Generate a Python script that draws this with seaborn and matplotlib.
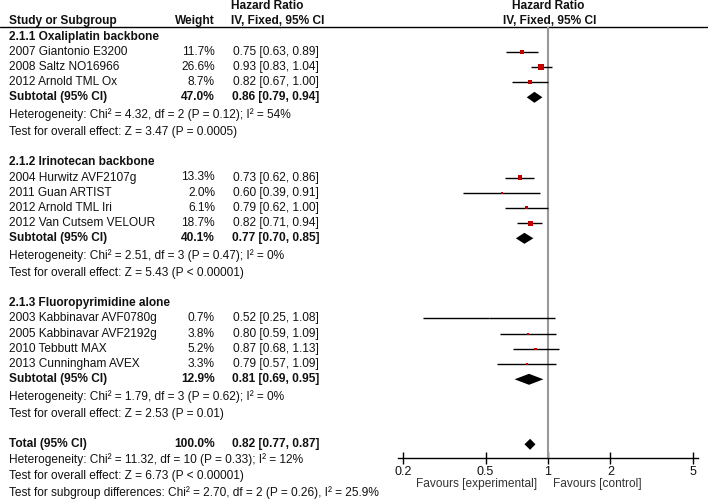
import matplotlib
matplotlib.use("Agg")
import matplotlib.pyplot as plt
import seaborn as sns
import pandas as pd
import numpy as np

# ---------------- data ----------------
group_names = ["2.1.1 Oxaliplatin backbone",
               "2.1.2 Irinotecan backbone",
               "2.1.3 Fluoropyrimidine alone"]

study_names = ["2007 Giantonio E3200", "2008 Saltz NO16966", "2012 Arnold TML Ox",
               "2004 Hurwitz AVF2107g", "2011 Guan ARTIST", "2012 Arnold TML Iri",
               "2012 Van Cutsem VELOUR",
               "2003 Kabbinavar AVF0780g", "2005 Kabbinavar AVF2192g",
               "2010 Tebbutt MAX", "2013 Cunningham AVEX"]
study_group = [0, 0, 0, 1, 1, 1, 1, 2, 2, 2, 2]
study_weight = [11.7, 26.6, 8.7, 13.3, 2.0, 6.1, 18.7, 0.7, 3.8, 5.2, 3.3]
study_hr = [0.75, 0.93, 0.82, 0.73, 0.60, 0.79, 0.82, 0.52, 0.80, 0.87, 0.79]
study_lo = [0.63, 0.83, 0.67, 0.62, 0.39, 0.62, 0.71, 0.25, 0.59, 0.68, 0.57]
study_hi = [0.89, 1.04, 1.00, 0.86, 0.91, 1.00, 0.94, 1.08, 1.09, 1.13, 1.09]

sub_weight = [47.0, 40.1, 12.9]
sub_hr = [0.86, 0.77, 0.81]
sub_lo = [0.79, 0.70, 0.69]
sub_hi = [0.94, 0.85, 0.95]
sub_het = ["Heterogeneity: Chi² = 4.32, df = 2 (P = 0.12); I² = 54%",
           "Heterogeneity: Chi² = 2.51, df = 3 (P = 0.47); I² = 0%",
           "Heterogeneity: Chi² = 1.79, df = 3 (P = 0.62); I² = 0%"]
sub_test = ["Test for overall effect: Z = 3.47 (P = 0.0005)",
            "Test for overall effect: Z = 5.43 (P < 0.00001)",
            "Test for overall effect: Z = 2.53 (P = 0.01)"]

total_weight = 100.0
total_hr = 0.82
total_lo = 0.77
total_hi = 0.87
total_texts = ["Heterogeneity: Chi² = 11.32, df = 10 (P = 0.33); I² = 12%",
               "Test for overall effect: Z = 6.73 (P < 0.00001)",
               "Test for subgroup differences: Chi² = 2.70, df = 2 (P = 0.26), I² = 25.9%"]

tick_values = [0.2, 0.5, 1, 2, 5]
tick_labels = ["0.2", "0.5", "1", "2", "5"]

# ---------------- style ----------------
sns.set_theme(style="white")
plt.rcParams['font.family'] = ['Liberation Sans', 'DejaVu Sans']
FS = 8.6
TXT = "#111111"
RED = "#C00000"

W, H = 708, 499
fig = plt.figure(figsize=(W / 100, H / 100), dpi=100)
tax = fig.add_axes([0, 0, 1, 1])
tax.set_xlim(0, W)
tax.set_ylim(H, 0)
tax.axis("off")

# layout (pixel rows)
ROW = 15.2
X_LABEL, X_WEIGHT, X_HR = 9, 215, 276
AX_TOP, AX_BOT = 27, 458
AX_L, AX_R = 398, 698

def t(x, y, s, bold=False, ha="left", **kw):
    tax.text(x, y, s, fontsize=FS, color=TXT, ha=ha, va="center",
             fontweight="bold" if bold else "normal", **kw)

# headers
t(267, 6, "Hazard Ratio", bold=True, ha="center")
t(X_LABEL, 21, "Study or Subgroup", bold=True)
t(X_WEIGHT, 21, "Weight", bold=True, ha="right")
t(278, 21, "IV, Fixed, 95% CI", bold=True, ha="center")
t(548, 6, "Hazard Ratio", bold=True, ha="center")
t(550, 21, "IV, Fixed, 95% CI", bold=True, ha="center")
tax.plot([0, W], [AX_TOP, AX_TOP], color="black", lw=1.0)

# compute rows
study_y = [0.0] * len(study_names)
sub_y = []
y = 36.5
for g, gname in enumerate(group_names):
    t(X_LABEL, y, gname, bold=True)
    for i in range(len(study_names)):
        if study_group[i] == g:
            y += ROW
            study_y[i] = y
    y += ROW
    sub_y.append(y)
    t(X_LABEL, y, "Subtotal (95% CI)", bold=True)
    t(X_WEIGHT, y, f"{sub_weight[g]:.1f}%", bold=True, ha="right")
    t(X_HR, y, f"{sub_hr[g]:.2f} [{sub_lo[g]:.2f}, {sub_hi[g]:.2f}]", bold=True, ha="center")
    y += 17.5
    t(X_LABEL, y, sub_het[g])
    y += 17
    t(X_LABEL, y, sub_test[g])
    y += 30.5

total_y = y
t(X_LABEL, total_y, "Total (95% CI)", bold=True)
t(X_WEIGHT, total_y, f"{total_weight:.1f}%", bold=True, ha="right")
t(X_HR, total_y, f"{total_hr:.2f} [{total_lo:.2f}, {total_hi:.2f}]", bold=True, ha="center")
yy = total_y
for k, s in enumerate(total_texts):
    yy += [15.5, 16.5, 16.5][k]
    t(X_LABEL, yy, s)

for i, name in enumerate(study_names):
    t(X_LABEL, study_y[i], name)
    t(X_WEIGHT, study_y[i], f"{study_weight[i]:.1f}%", ha="right")
    t(X_HR, study_y[i], f"{study_hr[i]:.2f} [{study_lo[i]:.2f}, {study_hi[i]:.2f}]", ha="center")

# ---------------- forest axes ----------------
px_dec = (693 - 403) / (2 * np.log10(5))
lo_lim = 10 ** (np.log10(0.2) - (403 - AX_L) / px_dec)
hi_lim = 10 ** (np.log10(5) + (AX_R - 693) / px_dec)

fax = fig.add_axes([AX_L / W, (H - AX_BOT) / H, (AX_R - AX_L) / W, (AX_BOT - AX_TOP) / H])
fax.set_xscale("log")
fax.set_xlim(lo_lim, hi_lim)
fax.set_ylim(AX_BOT, AX_TOP)
fax.patch.set_alpha(0)
for sp in ["top", "left", "right"]:
    fax.spines[sp].set_visible(False)
fax.spines["bottom"].set_color("black")
fax.spines["bottom"].set_linewidth(1.0)
fax.set_yticks([])
fax.set_xticks(tick_values)
fax.set_xticklabels(tick_labels)
fax.minorticks_off()
fax.tick_params(axis="x", direction="inout", length=8, width=1, color="black",
                labelsize=9, labelcolor=TXT, pad=2, bottom=True)

fax.axvline(1, color="#999999", lw=1.5, zorder=1)

df = pd.DataFrame({"study": study_names, "hr": study_hr, "lo": study_lo,
                   "hi": study_hi, "weight": study_weight, "y": study_y})
fax.hlines(df["y"], df["lo"], df["hi"], color="black", lw=1.0, zorder=2)
k = 0.7
sns.scatterplot(data=df, x="hr", y="y", size="weight",
                sizes=(min(study_weight) * k, max(study_weight) * k),
                size_norm=(min(study_weight), max(study_weight)),
                marker="s", color=RED, linewidth=0, legend=False, ax=fax, zorder=3)
fax.set_xlabel("")
fax.set_ylabel("")

DH = 5.5
for g in range(len(group_names)):
    fax.fill([sub_lo[g], sub_hr[g], sub_hi[g], sub_hr[g]],
             [sub_y[g], sub_y[g] - DH, sub_y[g], sub_y[g] + DH],
             color="black", lw=0, zorder=3)
fax.fill([total_lo, total_hr, total_hi, total_hr],
         [total_y, total_y - DH, total_y, total_y + DH],
         color="black", lw=0, zorder=3)

tax.text(537, 484, "Favours [experimental]", fontsize=FS, color="#333333", ha="right", va="center")
tax.text(553, 484, "Favours [control]", fontsize=FS, color="#333333", ha="left", va="center")

fig.savefig("out.png", dpi=100)
